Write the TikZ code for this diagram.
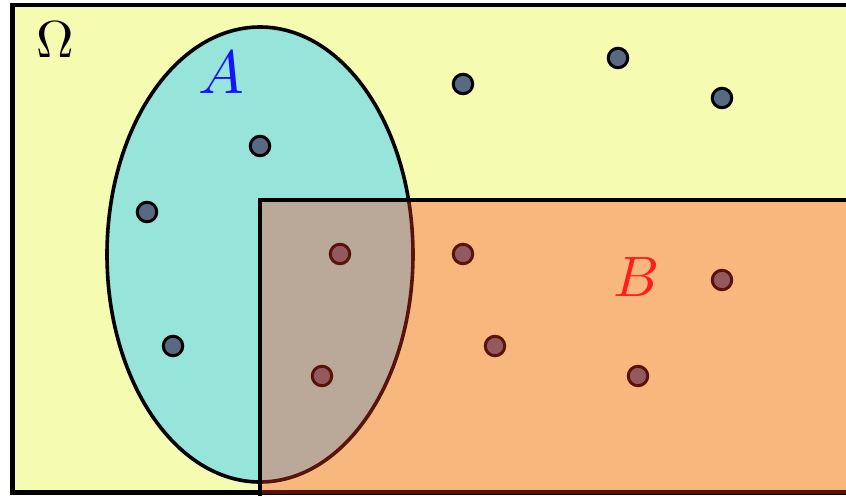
\documentclass[tikz,border=0pt]{standalone}
\usepackage{graphicx}
\begin{document}
\begin{tikzpicture}[x=1pt,y=-1pt,
  dot/.style={circle,draw=black,line width=3pt,fill=dotgray,minimum size=19.5pt,inner sep=0pt},
  lbl/.style={inner sep=0pt}]
\definecolor{bgyellow}{RGB}{245,251,176}
\definecolor{acyan}{RGB}{150,228,218}
\definecolor{bred}{RGB}{255,60,30}
\definecolor{dotgray}{RGB}{90,105,130}
\definecolor{lblblue}{RGB}{20,20,250}
\definecolor{lblred}{RGB}{255,30,30}
\useasboundingbox (0,0) rectangle (846,496);
\fill[white] (0,0) rectangle (846,496);
% sample space
\draw[line width=4.5pt,fill=bgyellow] (12.5,5) rectangle (852,492.5);
% event A
\draw[line width=3.6pt,fill=acyan] (260,254.5) ellipse [x radius=153, y radius=227.5];
% points
\node[dot] (p1) at (463,84) {};
\node[dot] (p2) at (618,58) {};
\node[dot] (p3) at (722,98) {};
\node[dot] (p4) at (260,146) {};
\node[dot] (p5) at (147,212) {};
\node[dot] (p6) at (173,346) {};
\node[dot] (p7) at (340,254) {};
\node[dot] (p8) at (463,254) {};
\node[dot] (p9) at (722,280) {};
\node[dot] (p10) at (495,346) {};
\node[dot] (p11) at (638,376) {};
\node[dot] (p12) at (322,376) {};
% event B (translucent)
\fill[bred,opacity=0.35] (260,200) rectangle (852,494);
\draw[line width=3.6pt] (852,200) -- (260,200) -- (260,496);
% labels
\node[lbl,text=lblblue] (la) at (221,73) {\scalebox{6.1}{$A$}};
\node[lbl,text=lblred] (lb) at (637,277) {\scalebox{5.7}{$B$}};
\node[lbl] (lo) at (55,40) {\scalebox{5.2}{$\Omega$}};
\end{tikzpicture}
\end{document}
